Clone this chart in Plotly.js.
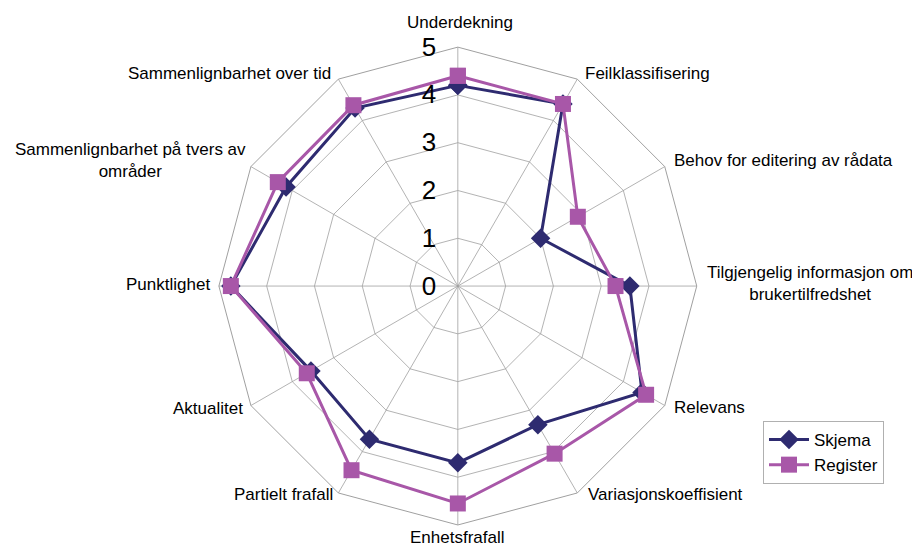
<!DOCTYPE html>
<html>
<head>
<meta charset="utf-8">
<script src="https://cdn.plot.ly/plotly-3.0.1.min.js"></script>
<style>html,body{margin:0;padding:0;background:#fff;}#chart{width:912px;height:548px;}</style>
</head>
<body>
<div id="chart"></div>
<script>
const categories = [
  "Underdekning",
  "Feilklassifisering",
  "Behov for editering av rådata",
  "Tilgjengelig informasjon om<br>brukertilfredshet",
  "Relevans",
  "Variasjonskoeffisient",
  "Enhetsfrafall",
  "Partielt frafall",
  "Aktualitet",
  "Punktlighet",
  "Sammenlignbarhet på tvers av<br>områder",
  "Sammenlignbarhet over tid"
];
const skjema   = [4.2, 4.4, 2.0, 3.6, 4.45, 3.35, 3.7, 3.7, 3.55, 4.75, 4.15, 4.3];
const register = [4.4, 4.4, 2.9, 3.3, 4.55, 4.05, 4.55, 4.45, 3.65, 4.75, 4.35, 4.37];
const radialTicks = [0, 1, 2, 3, 4, 5];

const close = a => a.concat([a[0]]);
const cats = close(categories);

const W = 912, H = 548;
// label placement (pixels): x, y, horizontal anchor
const labelPlacement = [
  [460, 22, "center"],
  [583, 73, "left"],
  [672, 160, "left"],
  [810, 283, "center"],
  [672, 407, "left"],
  [586, 494, "left"],
  [458, 537, "center"],
  [335, 494, "right"],
  [245, 408, "right"],
  [212, 284, "right"],
  [130, 160, "center"],
  [333, 73, "right"]
];
const annotations = categories.map((c, i) => ({
  text: c, xref: "paper", yref: "paper",
  x: labelPlacement[i][0] / W, y: 1 - labelPlacement[i][1] / H,
  xanchor: labelPlacement[i][2], yanchor: "middle", align: "center",
  showarrow: false, font: {size: 17, color: "#000"}
}));

const traces = [
  {
    type: "scatterpolar", name: "Skjema",
    r: close(skjema), theta: cats, mode: "lines+markers",
    line: {color: "#2E2B70", width: 3},
    marker: {symbol: "diamond", size: 15, color: "#2E2B70"}
  },
  {
    type: "scatterpolar", name: "Register",
    r: close(register), theta: cats, mode: "lines+markers",
    line: {color: "#A857A8", width: 3},
    marker: {symbol: "square", size: 16, color: "#A857A8"}
  }
];

const layout = {
  width: W, height: H,
  margin: {l: 0, r: 0, t: 0, b: 0},
  paper_bgcolor: "#fff",
  font: {family: "Liberation Sans, Arial, sans-serif", size: 17, color: "#000"},
  showlegend: true,
  legend: {
    x: 763 / W, y: 1 - 421 / H, xanchor: "left", yanchor: "top",
    bordercolor: "#b0b0b0", borderwidth: 1, bgcolor: "#fff",
    itemwidth: 40,
    font: {size: 17}
  },
  annotations: annotations,
  polar: {
    domain: {x: [0.240, 0.764], y: [0.042, 0.914]},
    bgcolor: "#fff",
    gridshape: "linear",
    angularaxis: {
      type: "category", categoryarray: categories,
      direction: "clockwise", rotation: 90,
      showline: true, linecolor: "#a0a0a0", linewidth: 1,
      gridcolor: "#a0a0a0", gridwidth: 0.8,
      ticks: "", showticklabels: false
    },
    radialaxis: {
      range: [0, 5], angle: 90, tickangle: 90,
      tickvals: radialTicks, ticktext: radialTicks.map(String),
      showline: false, ticks: "outside", ticklen: 12, tickcolor: "rgba(0,0,0,0)",
      gridcolor: "#a0a0a0", gridwidth: 0.8,
      side: "counterclockwise",
      tickfont: {size: 26}
    }
  }
};

Plotly.newPlot("chart", traces, layout, {displayModeBar: false, staticPlot: true});
</script>
</body>
</html>
